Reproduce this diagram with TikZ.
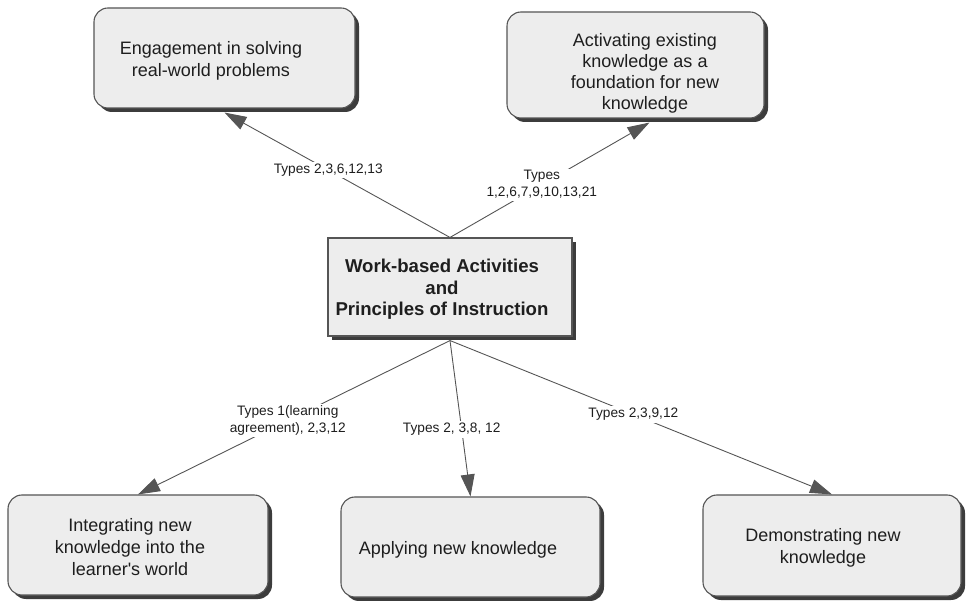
\documentclass[tikz,border=0pt]{standalone}
\usepackage{fontspec}
\setmainfont{Liberation Sans}[Ligatures=TeXOff]
\usetikzlibrary{arrows.meta, shadows, positioning}
\definecolor{boxfill}{HTML}{EDEDED}
\definecolor{edgegray}{HTML}{555555}
\definecolor{shadowgray}{HTML}{3C3C3C}
\definecolor{textgray}{HTML}{1E1E1E}

\begin{document}
\begin{tikzpicture}[x=1pt, y=-1pt,
    box/.style={draw=edgegray, line width=1.1pt, fill=boxfill, rounded corners=14pt, inner sep=0pt,
        drop shadow={shadow xshift=4pt, shadow yshift=-4pt, fill=shadowgray, opacity=1}},
    boxtext/.style={align=center, text=textgray, font=\fontsize{18}{22}\selectfont, inner sep=0pt},
    link/.style={draw=edgegray, line width=0.9pt, -{Triangle[length=22pt, width=14pt]}},
    lbl/.style={fill=white, align=center, text=textgray, font=\fontsize{13.7}{17}\selectfont, inner sep=2pt}]
    \useasboundingbox (0, 0) rectangle (967, 601);

    % boxes
    \node[box, minimum width=261pt, minimum height=100pt] (engage) at (224.5, 58) {};
    \node[box, minimum width=257pt, minimum height=106pt] (activate) at (635.5, 65) {};
    \node[box, rounded corners=0pt, minimum width=244pt, minimum height=98pt] (work) at (450, 287) {};
    \node[box, minimum width=260pt, minimum height=100pt] (integrate) at (138, 545) {};
    \node[box, minimum width=259pt, minimum height=100pt] (apply) at (470.5, 547) {};
    \node[box, minimum width=258pt, minimum height=101pt] (demo) at (832, 545.5) {};

    % texts
    \node[boxtext] (engagetxt) at (211, 61) {Engagement in solving\\real-world problems};
    \node[boxtext, font=\fontsize{18}{21}\selectfont] (activatetxt) at (645, 73) {Activating existing\\knowledge as a\\foundation for new\\knowledge};
    \node[boxtext, font=\fontsize{18.6}{21.5}\selectfont\bfseries] (worktxt) at (442, 289.5) {Work-based Activities\\and\\Principles of Instruction};
    \node[boxtext] (integratetxt) at (130, 547) {Integrating new\\knowledge into the\\learner's world};
    \node[boxtext] (applytxt) at (458, 550) {Applying new knowledge};
    \node[boxtext] (demotxt) at (823, 548) {Demonstrating new\\knowledge};

    % links
    \draw[link] (work.north) -- node[lbl, pos=0.54] (lblengage) {Types 2,3,6,12,13} ([yshift=-4pt]engage.south);
    \draw[link] (work.north) -- node[lbl, pos=0.46] (lblactivate) {Types\\1,2,6,7,9,10,13,21} ([xshift=14pt, yshift=-4pt]activate.south);
    \draw[link] ([yshift=-4pt]work.south) -- node[lbl, pos=0.52] (lblintegrate) {Types 1(learning\\agreement), 2,3,12} (integrate.north);
    \draw[link] ([yshift=-4pt]work.south) -- node[lbl, pos=0.57, xshift=-10pt] (lblapply) {Types 2, 3,8, 12} (apply.north);
    \draw[link] ([yshift=-4pt]work.south) -- node[lbl, pos=0.48] (lbldemo) {Types 2,3,9,12} (demo.north);
\end{tikzpicture}
\end{document}
